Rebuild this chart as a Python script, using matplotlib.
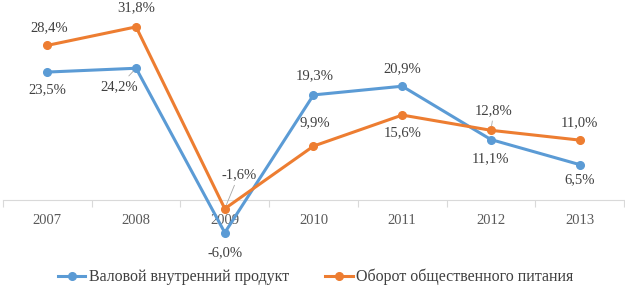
import matplotlib.pyplot as plt
import numpy as np

years = ["2007", "2008", "2009", "2010", "2011", "2012", "2013"]
gdp = [23.5, 24.2, -6.0, 19.3, 20.9, 11.1, 6.5]
catering = [28.4, 31.8, -1.6, 9.9, 15.6, 12.8, 11.0]
gdp_name = "Валовой внутренний продукт"
catering_name = "Оборот общественного питания"

# label offsets in pixels (dx, dy) and whether a leader line is drawn
gdp_offsets = [(0, -18, False), (-17, -18, True), (0, -20, False), (1, 19, False),
               (0, 18, False), (0, -19, False), (0, -15, False)]
catering_offsets = [(2, 18, False), (0, 19, False), (14, 34, True), (1, 23, False),
                    (0, -18, False), (3, 20, True), (0, 17, False)]

plt.rcParams["font.family"] = ["Liberation Serif", "DejaVu Serif"]

fig = plt.figure(figsize=(6.25, 2.95), dpi=100)
ax = fig.add_axes([3 / 625, 55 / 295, 621 / 625, 230 / 295])

x = np.arange(len(years))
blue = "#5B9BD5"
orange = "#ED7D31"
ax.plot(x, gdp, color=blue, lw=2.2, marker="o", ms=5.5, label=gdp_name, zorder=3)
ax.plot(x, catering, color=orange, lw=2.2, marker="o", ms=5.5, label=catering_name, zorder=3)


def fmt(v):
    return f"{v:.1f}%".replace(".", ",")


for series, offs in ((gdp, gdp_offsets), (catering, catering_offsets)):
    for xi, v, (dx, dy, lead) in zip(x, series, offs):
        kw = {}
        if lead:
            kw["arrowprops"] = dict(arrowstyle="-", color="#A6A6A6", lw=0.6,
                                    shrinkA=1, shrinkB=3)
        ax.annotate(fmt(v), (xi, v), xytext=(dx, dy), textcoords="offset pixels",
                    ha="center", va="center", fontsize=10.5, color="#404040", **kw)

ax.set_xlim(-0.5, len(years) - 0.5)
ax.set_ylim(-7.35, 34.9)
for s in ("top", "right", "left"):
    ax.spines[s].set_visible(False)
ax.spines["bottom"].set_position(("data", 0))
ax.spines["bottom"].set_color("#D9D9D9")
ax.spines["bottom"].set_zorder(1)
ax.set_yticks([])
ax.set_xticks(x)
ax.set_xticklabels(years)
ax.tick_params(axis="x", which="major", length=0, pad=10, labelsize=10.5, labelcolor="#595959")
ax.set_xticks(np.arange(-0.5, len(years)), minor=True)
ax.tick_params(axis="x", which="minor", length=5, color="#D9D9D9", width=0.8)

fig.legend(loc="center", bbox_to_anchor=(0.505, 0.061), ncol=2, frameon=False,
           fontsize=11.5, handlelength=1.7, handletextpad=0.2, columnspacing=2.3,
           labelcolor="#404040", borderpad=0)

fig.savefig("out.png", dpi=100)
